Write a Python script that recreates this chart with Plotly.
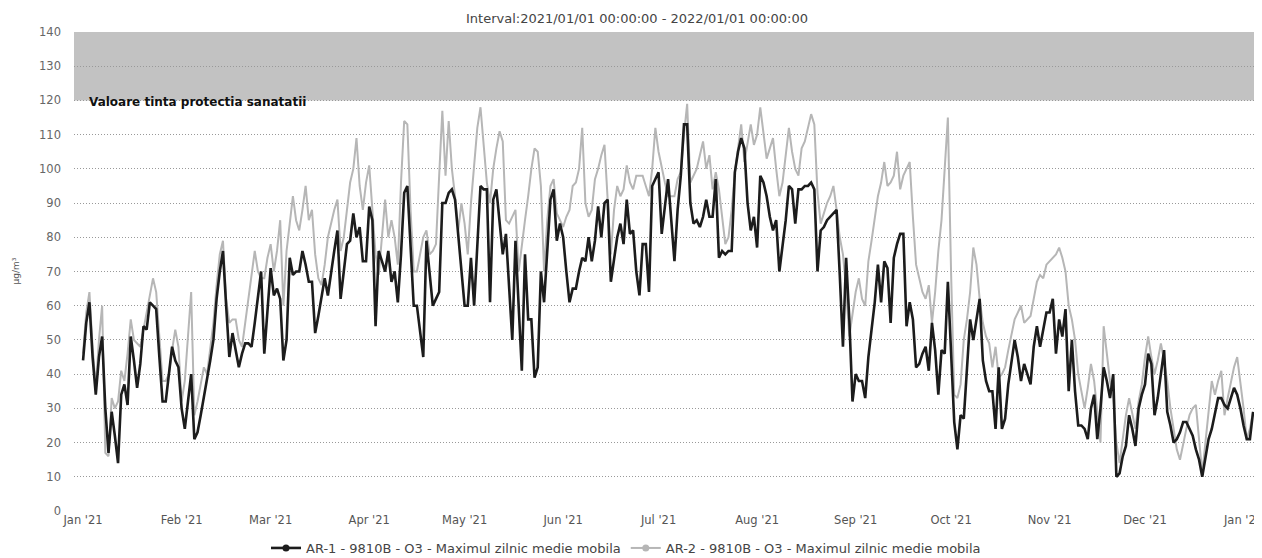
import pandas as pd
import plotly.graph_objects as go

start_date = "2021-01-01"
title_text = "Interval:2021/01/01 00:00:00 - 2022/01/01 00:00:00"
band_label = "Valoare tinta protectia sanatatii"
band_low, band_high = 120, 140
name_ar1 = "AR-1 - 9810B - O3 - Maximul zilnic medie mobila"
name_ar2 = "AR-2 - 9810B - O3 - Maximul zilnic medie mobila"
y_ticks = [0, 10, 20, 30, 40, 50, 60, 70, 80, 90, 100, 110, 120, 130, 140]

ar1 = [
    44, 55, 61, 45, 34, 45, 51, 30, 17, 29,
    22, 14, 34, 37, 31, 51, 44, 36, 43, 54,
    53, 61, 60, 59, 45, 32, 32, 40, 48, 44,
    42, 30, 24, 32, 40, 21, 23, 28, 33, 38,
    44, 50, 62, 70, 76, 60, 45, 52, 47, 42,
    46, 49, 49, 48, 55, 62, 70, 46, 60, 71,
    63, 65, 62, 44, 50, 74, 69, 70, 70, 76,
    72, 67, 67, 52, 57, 63, 68, 63, 70, 76,
    82, 62, 70, 78, 79, 87, 80, 83, 73, 73,
    89, 85, 54, 76, 73, 70, 76, 67, 70, 61,
    75, 93, 95, 78, 60, 60, 52, 45, 79, 70,
    60, 62, 64, 90, 90, 93, 94, 91, 80, 70,
    60, 60, 74, 60, 78, 95, 94, 94, 61, 91,
    94, 85, 75, 81, 67, 50, 79, 60, 41, 75,
    56, 56, 39, 42, 70, 61, 75, 91, 94, 79,
    84, 80, 70, 61, 65, 65, 70, 74, 73, 80,
    73, 79, 89, 80, 90, 91, 67, 74, 80, 84,
    78, 91, 81, 82, 70, 63, 78, 78, 64, 95,
    97, 99, 81, 90, 97, 85, 73, 88, 98, 113,
    113, 90, 84, 85, 83, 86, 91, 86, 86, 97,
    74, 76, 75, 76, 76, 99, 105, 109, 106, 90,
    82, 86, 77, 98, 96, 92, 86, 82, 85, 70,
    78, 85, 95, 94, 84, 94, 94, 95, 95, 96,
    94, 70, 82, 83, 85, 86, 87, 88, 69, 48,
    74, 56, 32, 40, 38, 38, 33, 45, 53, 61,
    72, 61, 73, 71, 55, 74, 78, 81, 81, 54,
    61, 56, 42, 43, 46, 48, 41, 55, 47, 34,
    47, 46, 67, 45, 26, 18, 28, 27, 42, 56,
    50, 56, 62, 44, 38, 35, 35, 24, 42, 24,
    27, 37, 44, 50, 45, 38, 43, 40, 37, 48,
    54, 48, 53, 58, 58, 62, 46, 56, 51, 59,
    35, 50, 35, 25, 25, 24, 21, 30, 34, 21,
    30, 42, 38, 33, 40, 10, 11, 16, 19, 28,
    24, 19, 30, 34, 37, 46, 43, 28, 33, 40,
    47, 29, 25, 20, 21, 23, 26, 26, 24, 22,
    18, 15, 10, 15, 21, 24, 29, 33, 33, 31,
    30, 33, 36, 34, 30, 25, 21, 21, 29,
]

ar2 = [
    46, 58, 64, 48, 36, 50, 60, 17, 16, 33,
    30, 32, 41, 38, 46, 56, 50, 49, 48, 53,
    58, 62, 68, 64, 52, 38, 38, 40, 47, 53,
    48, 32, 38, 52, 64, 28, 32, 37, 42, 40,
    47, 55, 66, 75, 79, 62, 55, 56, 56, 50,
    48, 55, 62, 70, 76, 70, 68, 68, 74, 78,
    70, 76, 85, 60, 76, 84, 92, 85, 82, 88,
    95, 85, 88, 75, 68, 66, 72, 80, 84, 88,
    91, 76, 80, 88, 96, 100, 109, 95, 88, 96,
    101, 88, 75, 69, 80, 91, 80, 85, 80, 72,
    96, 114, 113, 88, 70, 70, 75, 80, 82, 75,
    76, 78, 98, 117, 98, 114, 100, 92, 82, 90,
    84, 75, 90, 100, 112, 118, 107, 96, 90, 100,
    106, 111, 108, 85, 84, 86, 88, 70, 78, 85,
    92, 100, 106, 105, 95, 70, 85, 95, 97, 87,
    85, 83, 86, 88, 95, 96, 100, 112, 90, 86,
    88, 97, 100, 104, 107, 90, 75, 88, 95, 92,
    94, 101, 96, 94, 98, 98, 98, 95, 92, 100,
    112, 105, 100, 96, 92, 92, 92, 97, 99, 110,
    119, 96, 98, 100, 104, 108, 100, 104, 94, 99,
    94, 86, 78, 80, 88, 99, 106, 113, 102, 108,
    113, 107, 110, 118, 110, 103, 106, 109, 100, 92,
    96, 104, 112, 105, 100, 98, 106, 108, 112, 116,
    113, 93, 84, 87, 90, 92, 95, 88, 80, 75,
    65, 51, 58, 64, 68, 62, 60, 73, 79, 86,
    92, 96, 102, 95, 96, 98, 105, 94, 98, 100,
    102, 86, 72, 68, 64, 62, 66, 55, 64, 76,
    85, 100, 115, 70, 34, 33, 37, 50, 56, 64,
    77, 72, 62, 55, 51, 49, 42, 48, 39, 40,
    42, 47, 52, 56, 58, 60, 55, 56, 57, 62,
    67, 69, 68, 72, 73, 74, 75, 77, 74, 70,
    60, 56, 50, 40, 35, 30, 36, 43, 38, 28,
    20, 54, 45, 38, 33, 20, 14, 21, 28, 33,
    28, 24, 32, 37, 45, 51, 45, 40, 44, 49,
    44, 38, 30, 24, 18, 15, 20, 24, 28, 30,
    31, 22, 11, 20, 30, 38, 34, 38, 41, 28,
    33, 38, 42, 45, 38, 30, 21, 24, 29,
]

dates = pd.date_range(start_date, periods=len(ar1), freq="D")
t0 = pd.Timestamp(start_date)
x_range = [t0 - pd.Timedelta(days=2.85), t0 + pd.Timedelta(days=370.8)]

# page body has an 8px default margin: size the figure so the plot lands where the reference has it
W, H = 1254, 550
ML, MT, MB = 66, 24, 47
PW, PH = W - ML, H - MT - MB

FONT = "DejaVu Sans, Verdana, sans-serif"
DARK = "#1c1c1c"
LIGHT = "#b6b6b6"

fig = go.Figure()
fig.add_trace(go.Scatter(x=dates, y=ar2, mode="lines", line=dict(color=LIGHT, width=2),
                         showlegend=False, name=name_ar2))
fig.add_trace(go.Scatter(x=dates, y=ar1, mode="lines", line=dict(color=DARK, width=2.6),
                         showlegend=False, name=name_ar1))
# legend entries (line + circle symbol)
fig.add_trace(go.Scatter(x=[None], y=[None], mode="lines+markers", name=name_ar1,
                         line=dict(color=DARK, width=2.6), marker=dict(size=7, color=DARK)))
fig.add_trace(go.Scatter(x=[None], y=[None], mode="lines+markers", name=name_ar2,
                         line=dict(color=LIGHT, width=2), marker=dict(size=7, color=LIGHT)))

fig.add_shape(type="rect", xref="paper", yref="y", x0=0, x1=1, y0=band_low, y1=band_high,
              fillcolor="#c2c2c2", line=dict(width=0), layer="between")

fig.add_annotation(text="<b>" + band_label + "</b>", xref="paper", yref="y",
                   x=13 / PW, y=band_low - 0.6, xanchor="left", yanchor="middle",
                   showarrow=False, font=dict(family=FONT, size=12, color="#111"))

fig.add_annotation(text="µg/m³", xref="paper", yref="paper", x=-59 / PW, y=0.5,
                   textangle=-90, showarrow=False, xanchor="center", yanchor="middle",
                   font=dict(family=FONT, size=9, color="#555"))

fig.update_layout(
    width=W, height=H,
    margin=dict(l=ML, r=0, t=MT, b=MB, autoexpand=False),
    paper_bgcolor="white", plot_bgcolor="white",
    title=dict(text=title_text, x=629 / W, xanchor="center", y=1 - 10 / H, yanchor="middle",
               font=dict(family=FONT, size=13, color="#444")),
    font=dict(family=FONT, color="#555"),
    showlegend=True,
    legend=dict(orientation="h", xref="container", yref="container",
                x=618 / W, xanchor="center", y=10 / H, yanchor="middle",
                font=dict(family=FONT, size=13, color="#444"), bgcolor="rgba(0,0,0,0)",
                itemwidth=30, tracegroupgap=0),
)
fig.update_xaxes(range=x_range, type="date", dtick="M1", tick0=start_date, tickformat="%b '%y",
                 showgrid=False, zeroline=False, showline=False, ticks="", automargin=False,
                 ticklabeloverflow="allow",
                 tickfont=dict(family=FONT, size=11.5, color="#555"))
fig.update_yaxes(range=[0, 140], tickvals=y_ticks, showgrid=True, gridcolor="#999999",
                 griddash="1px,2px", gridwidth=1, zeroline=False, showline=False, ticks="",
                 ticklabelstandoff=12, automargin=False,
                 tickfont=dict(family=FONT, size=11.5, color="#666"))

fig.write_html("out.html")
